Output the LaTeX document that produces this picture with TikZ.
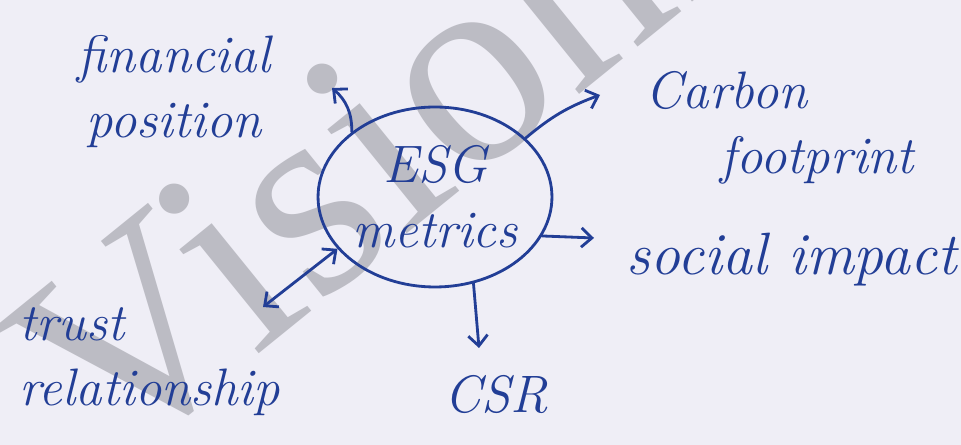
\documentclass[tikz,border=0pt]{standalone}
\usepackage{fontspec}
\newfontfamily\wmfont{Liberation Serif}
\usetikzlibrary{arrows.meta,shapes.geometric}
\definecolor{ink}{RGB}{34,62,150}
\definecolor{paper}{RGB}{239,238,246}
\definecolor{wmgray}{RGB}{188,188,196}
\tikzset{
  hw/.style={text=ink, font=\fontsize{30}{37}\selectfont\itshape, inner sep=0pt},
  conn/.style={draw=ink, line width=1.6pt, line cap=round, -{Straight Barb[length=6pt,width=11pt]}},
  bothconn/.style={draw=ink, line width=1.6pt, line cap=round, {Straight Barb[length=6pt,width=11pt]}-{Straight Barb[length=6pt,width=11pt]}},
  hub/.style={ellipse, draw=ink, line width=1.6pt, minimum width=4.56cm, minimum height=3.6cm, inner sep=0pt, align=center, text=ink, font=\fontsize{30}{37}\selectfont\itshape}
}
\begin{document}
\begin{tikzpicture}[x=0.02cm,y=-0.02cm]
\fill[paper] (0,0) rectangle (961,445);
\useasboundingbox (0,0) rectangle (961,445);
% watermark
\node[text=wmgray, rotate=39, anchor=base west, inner sep=0pt, font=\wmfont\fontsize{162}{162}\selectfont] (wmark) at (108,476) {VisionIAS};
% hub
\node[hub] (esg) at (435,197) {ESG\\metrics};
% leaves
\node[hw, align=center] (fin) at (174,92) {financial\\position};
\node[hw, align=left] (carbon) at (780,128) {Carbon\\\hspace*{1.5cm}footprint};
\node[hw, font=\fontsize{34}{40}\selectfont\itshape] (social) at (792,260) {social impact};
\node[hw] (csr) at (496,395) {CSR};
\node[hw, align=left] (trust) at (150,362) {trust\\relationship};
% arrow ends
\coordinate (finTip) at (332,88);
\coordinate (carbonTip) at (600,95);
\coordinate (socialTip) at (594,238);
\coordinate (csrTip) at (479,348);
\coordinate (trustTip) at (263,307);
% connectors
\draw[conn] (esg.142) to[bend right=25] (finTip);
\draw[conn] (esg.33) to[bend left=10] (carbonTip);
\draw[conn] (esg.-20) -- (socialTip);
\draw[conn] (esg.-66) -- (csrTip);
\draw[bothconn] (esg.208) -- (trustTip);
\end{tikzpicture}
\end{document}
